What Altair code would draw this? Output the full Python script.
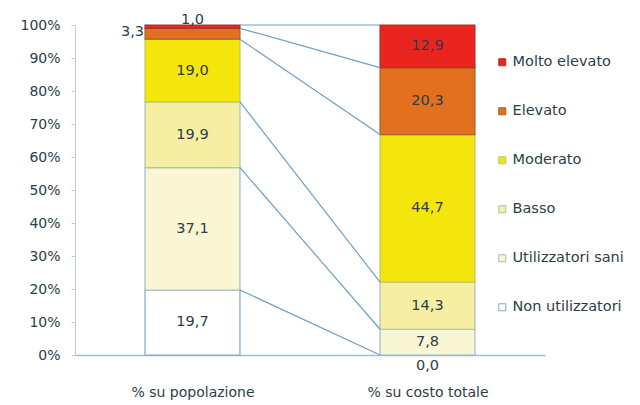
import altair as alt
import pandas as pd

categories = ["Non utilizzatori", "Utilizzatori sani", "Basso", "Moderato", "Elevato", "Molto elevato"]
bars = ["% su popolazione", "% su costo totale"]
pop_values = [19.7, 37.1, 19.9, 19.0, 3.3, 1.0]
cost_values = [0.0, 7.8, 14.3, 44.7, 20.3, 12.9]
y_ticks = [0, 10, 20, 30, 40, 50, 60, 70, 80, 90, 100]

fill_colors = ["#ffffff", "#faf6d4", "#f6eea2", "#f4e60c", "#e2701e", "#ea2520"]
stroke_colors = ["#7fa8cc", "#9dbccc", "#a9c3b4", "#b9c86a", "#a5622c", "#a8352a"]

HALF = 0.404  # half bar width in x units
centers = [1, 3]

rows = []
for bi, (bar, vals) in enumerate(zip(bars, [pop_values, cost_values])):
    cum = 0.0
    for cat, v in zip(categories, vals):
        start, end = cum, cum + v
        cum = end
        if v >= 5:
            pos = "mid"
        elif v == 0:
            pos = "below"
        elif v > 2:
            pos = "left"
        else:
            pos = "above"
        rows.append({
            "bar": bar, "cat": cat, "value": v,
            "start": round(start, 2), "end": round(end, 2), "mid": (start + end) / 2,
            "xl": centers[bi] - HALF, "xr": centers[bi] + HALF, "xc": centers[bi],
            "label": f"{v:.1f}".replace(".", ","), "pos": pos,
        })
df = pd.DataFrame(rows)

pop_df = df[df.bar == bars[0]].reset_index(drop=True)
cost_df = df[df.bar == bars[1]].reset_index(drop=True)
conn = pd.DataFrame({
    "x": pop_df["xr"], "y": pop_df["end"],
    "x2": cost_df["xl"], "y2": cost_df["end"],
})

FONT = "DejaVu Sans"
TXT = "#2e3d48"

xscale = alt.Scale(domain=[0, 4], nice=False, zero=False)
yscale = alt.Scale(domain=[0, 100], nice=False)

xaxis = alt.Axis(
    values=centers, title=None, grid=False, ticks=False,
    labelExpr="datum.value == 1 ? '% su popolazione' : '% su costo totale'",
    labelFont=FONT, labelFontSize=14, labelColor=TXT, labelPadding=30,
    domainColor="#9fc0d8", domainWidth=1.5,
)
yaxis = alt.Axis(
    values=y_ticks, title=None, grid=False, labelExpr="datum.value + '%'",
    labelFont=FONT, labelFontSize=14, labelColor=TXT, tickSize=4,
    tickColor="#b8cfe0", labelPadding=11, domainColor="#b8cfe0",
    labelOverlap=False, tickCount=11,
)

color = alt.Color(
    "cat:N",
    scale=alt.Scale(domain=categories[::-1], range=fill_colors[::-1]),
    legend=alt.Legend(
        title=None, orient="none", legendX=420, legendY=30,
        symbolType="square", symbolSize=49, symbolStrokeColor="#7fa3bf",
        symbolStrokeWidth=1, labelFont=FONT, labelFontSize=14.5,
        labelColor=TXT, rowPadding=34, labelOffset=3, symbolOpacity=1,
    ),
)
stroke = alt.Stroke(
    "cat:N",
    scale=alt.Scale(domain=categories[::-1], range=stroke_colors[::-1]),
    legend=None,
)

base = alt.Chart(df)

rects = base.mark_rect(strokeWidth=1.2).encode(
    x=alt.X("xl:Q", scale=xscale, axis=xaxis),
    x2="xr:Q",
    y=alt.Y("start:Q", scale=yscale, axis=yaxis),
    y2="end:Q",
    color=color,
    stroke=stroke,
)

lines = alt.Chart(conn).mark_rule(color="#6f9fc6", strokeWidth=1.2).encode(
    x=alt.X("x:Q", scale=xscale, axis=xaxis), x2="x2:Q",
    y=alt.Y("y:Q", scale=yscale, axis=yaxis), y2="y2:Q",
)

text_common = dict(font=FONT, fontSize=14.5, color=TXT)

mid_text = base.transform_filter("datum.pos == 'mid'").mark_text(baseline="middle", **text_common).encode(
    x=alt.X("xc:Q", scale=xscale), y=alt.Y("mid:Q", scale=yscale), text="label:N")
left_text = base.transform_filter("datum.pos == 'left'").mark_text(align="right", baseline="middle", dx=-1, dy=-2, **text_common).encode(
    x=alt.X("xl:Q", scale=xscale), y=alt.Y("mid:Q", scale=yscale), text="label:N")
above_text = base.transform_filter("datum.pos == 'above'").mark_text(baseline="middle", dy=-5, **text_common).encode(
    x=alt.X("xc:Q", scale=xscale), y=alt.Y("end:Q", scale=yscale), text="label:N")
below_text = base.transform_filter("datum.pos == 'below'").mark_text(baseline="middle", dy=11, **text_common).encode(
    x=alt.X("xc:Q", scale=xscale), y=alt.Y("end:Q", scale=yscale), text="label:N")

chart = alt.layer(rects, lines, mid_text, left_text, above_text, below_text).properties(
    width=470, height=330,
    autosize=alt.AutoSizeParams(type="none"),
    padding={"left": 67, "top": 17, "right": 87, "bottom": 50},
    background="white",
).configure_view(stroke=None)

chart.save("out.html", embed_options={"renderer": "svg", "actions": False})
